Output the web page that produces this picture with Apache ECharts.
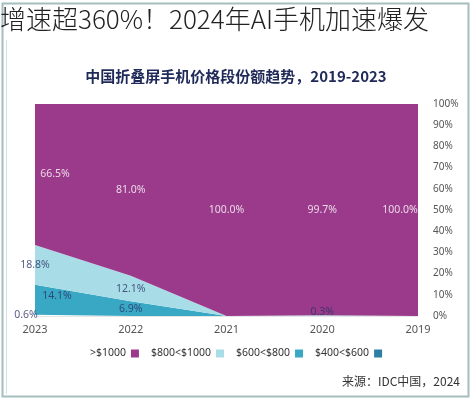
<!DOCTYPE html>
<html>
<head>
<meta charset="utf-8">
<script src="https://cdn.jsdelivr.net/npm/echarts@6/dist/echarts.min.js"></script>
<style>
html,body{margin:0;padding:0;background:#fff;}
#c{width:472px;height:400px;}
</style>
</head>
<body>
<div id="c"></div>
<script>
// ---- data ----
var years = ['2019', '2020', '2021', '2022', '2023'];
var seriesNames = ['$400<$600', '$600<$800', '$800<$1000', '>$1000'];
var s400 = [0, 0, 0, 0, 0.6];
var s600 = [0, 0, 0, 6.9, 14.1];
var s800 = [0, 0.3, 0, 12.1, 18.8];
var s1000 = [100.0, 99.7, 100.0, 81.0, 66.5];
var yTicks = [0, 10, 20, 30, 40, 50, 60, 70, 80, 90, 100];

var headline = '增速超360%！2024年AI手机加速爆发';
var chartTitle = '中国折叠屏手机价格段份额趋势，2019-2023';
var sourceText = '来源：IDC中国，2024';

// ---- styles ----
var colors = ['#2c80a2', '#38a8c4', '#a8dde7', '#9b3a8b'];
var labelColors = ['#2a3566', '#2a3566', '#2a3566', '#ffffff'];
// label pixel offsets keyed by "seriesIndex-yearIndex"
var labelOffsets = {
  '3-0': [-18, 0],
  '3-4': [20, 0],
  '2-1': [0, -4],
  '1-4': [22, -4],
  '0-4': [-9, 0]
};

var all = [s400, s600, s800, s1000];
var chart = echarts.init(document.getElementById('c'));

var series = [];
all.forEach(function (arr, i) {
  series.push({
    name: seriesNames[i],
    type: 'line',
    stack: 'total',
    data: arr,
    symbol: 'none',
    lineStyle: {width: 0},
    areaStyle: {color: colors[i], opacity: 1},
    itemStyle: {color: colors[i]},
    emphasis: {disabled: true},
    z: 2
  });
});

// label points at the middle of each band
var labelData = [];
all.forEach(function (arr, i) {
  arr.forEach(function (v, j) {
    if (v <= 0) return;
    var below = 0;
    for (var k = 0; k < i; k++) below += all[k][j];
    var off = labelOffsets[i + '-' + j] || [0, 0];
    labelData.push({
      value: [years[j], below + v / 2],
      label: {
        show: true,
        formatter: v.toFixed(1) + '%',
        color: labelColors[i],
        offset: off
      }
    });
  });
});
series.push({
  type: 'scatter',
  data: labelData,
  symbolSize: 0,
  silent: true,
  z: 5,
  label: {show: true, position: 'inside', fontSize: 10.5, fontFamily: 'Noto Sans, sans-serif'}
});

chart.setOption({
  animation: false,
  backgroundColor: '#ffffff',
  title: [{
    text: headline,
    left: 0, top: 6, padding: 0,
    textStyle: {fontSize: 26, fontWeight: 300, color: '#222', fontFamily: 'Noto Sans CJK SC'}
  }, {
    text: chartTitle,
    left: 'center', top: 69, padding: 0,
    textStyle: {fontSize: 15, fontWeight: 'bold', color: '#1f2a58', fontFamily: 'Noto Sans CJK SC'}
  }],
  graphic: [{
    type: 'rect', silent: true, z: -1,
    shape: {x: 2.5, y: 3.5, width: 466, height: 393},
    style: {fill: 'none', stroke: '#a5bebe', lineWidth: 2}
  }, {
    type: 'line', silent: true, z: -1,
    shape: {x1: 6.5, y1: 40, x2: 6.5, y2: 394},
    style: {stroke: '#cfe0e0', lineWidth: 1}
  }, {
    type: 'text', right: 12, top: 375,
    style: {text: sourceText, fontSize: 12, fill: '#333', fontFamily: 'Noto Sans CJK SC'}
  }],
  legend: {
    data: seriesNames.slice().reverse(),
    bottom: 36, left: 'center',
    align: 'right',
    itemWidth: 8, itemHeight: 8, itemGap: 12,
    icon: 'rect',
    textStyle: {fontSize: 10.5, color: '#333', fontFamily: 'Noto Sans, sans-serif', padding: [0, 0, 0, 0]}
  },
  grid: {left: 35, right: 54, top: 104, bottom: 84},
  xAxis: {
    type: 'category',
    data: years,
    inverse: true,
    boundaryGap: false,
    axisLine: {show: true, lineStyle: {color: '#e6e6e6'}},
    axisTick: {show: false},
    axisLabel: {fontSize: 11, color: '#555', margin: 8, fontFamily: 'Noto Sans, sans-serif'}
  },
  yAxis: {
    type: 'value',
    position: 'right',
    min: yTicks[0], max: yTicks[yTicks.length - 1], interval: yTicks[1] - yTicks[0],
    axisLine: {show: false},
    axisTick: {show: false},
    splitLine: {show: false},
    axisLabel: {formatter: '{value}%', fontSize: 10, color: '#555', margin: 15, fontFamily: 'Noto Sans, sans-serif'}
  },
  series: series
});
</script>
</body>
</html>
